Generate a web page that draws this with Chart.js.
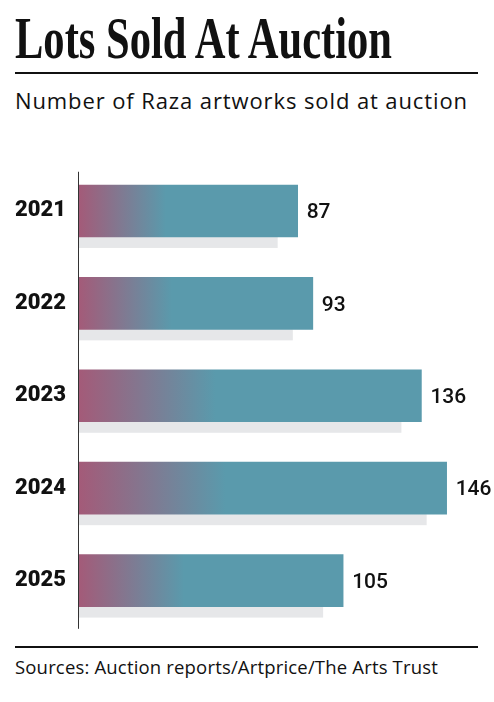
<!DOCTYPE html>
<html>
<head>
<meta charset="utf-8">
<script src="https://cdn.jsdelivr.net/npm/chart.js@4/dist/chart.umd.min.js"></script>
<style>
  body{margin:0;width:494px;height:702px;background:#fff;position:relative;overflow:hidden;color:#111}
  #title{position:absolute;left:15px;top:4px;font:bold 59px/normal "Liberation Serif",serif;white-space:nowrap;transform-origin:0 0}
  .rule{position:absolute;left:15px;width:463px;height:2px;background:#111}
  #sub{position:absolute;left:15px;top:87px;font:22px/1.2 "Open Sans",sans-serif;white-space:nowrap}
  #wrap{position:absolute;left:0;top:150px;width:494px;height:490px}
  #src{position:absolute;left:15px;top:656px;font:18.5px/1.2 "Open Sans",sans-serif;white-space:nowrap}
</style>
</head>
<body>
<div id="title">Lots Sold At Auction</div>
<div class="rule" style="top:72px"></div>
<div id="sub">Number of Raza artworks sold at auction</div>
<div id="wrap"><canvas id="chart" width="494" height="490"></canvas></div>
<div class="rule" style="top:646px"></div>
<div id="src">Sources: Auction reports/Artprice/The Arts Trust</div>

<script>
const $ = (id) => document.getElementById(id);

// data
const years = ['2021', '2022', '2023', '2024', '2025'];
const lots = [87, 93, 136, 146, 105];
const xMax = 160;

const pink = '#a45a78';
const teal = '#5a9aac';

// squeeze / stretch header text to the widths in the original
function fitScale(el, w){
  const nat = el.getBoundingClientRect().width;
  el.style.transform = 'scaleX(' + (w / nat) + ')';
}
function fitSpacing(el, w){
  const nat = el.getBoundingClientRect().width;
  el.style.letterSpacing = ((w - nat) / el.textContent.length) + 'px';
}
fitScale($('title'), 377);
fitSpacing($('sub'), 453);
fitSpacing($('src'), 423);

function barFill(c){
  const chart = c.chart;
  const x = chart.scales.x;
  if(!x || !chart.chartArea) return teal;
  const x0 = x.getPixelForValue(0);
  const x1 = x.getPixelForValue(lots[c.dataIndex]);
  const g = chart.ctx.createLinearGradient(x0, 0, x1, 0);
  g.addColorStop(0, pink);
  g.addColorStop(0.4, teal);
  g.addColorStop(1, teal);
  return g;
}

// grey shadow under each bar, value labels and the left axis line
const extras = {
  id: 'extras',
  beforeDatasetsDraw(chart){
    const ctx = chart.ctx;
    ctx.save();
    ctx.fillStyle = '#e6e7e9';
    chart.getDatasetMeta(0).data.forEach(b => {
      const bottom = b.y + b.height / 2;
      ctx.fillRect(b.base + 1, bottom, b.x - 20 - b.base - 1, 11);
    });
    ctx.restore();
  },
  afterDatasetsDraw(chart){
    const {ctx, chartArea} = chart;
    ctx.save();
    ctx.fillStyle = '#111';
    ctx.font = '500 21px Roboto';
    ctx.textBaseline = 'middle';
    chart.getDatasetMeta(0).data.forEach((b, i) => {
      ctx.fillText(String(lots[i]), b.x + 9, b.y + 2);
    });
    const x0 = Math.round(chart.scales.x.getPixelForValue(0)) + 0.5;
    ctx.strokeStyle = '#333';
    ctx.lineWidth = 1;
    ctx.beginPath();
    ctx.moveTo(x0, chartArea.top + 7);
    ctx.lineTo(x0, chartArea.bottom + 2);
    ctx.stroke();
    ctx.restore();
  }
};

new Chart($('chart'), {
  type: 'bar',
  data: {
    labels: years,
    datasets: [{ data: lots, backgroundColor: barFill, borderWidth: 0, barThickness: 52 }]
  },
  options: {
    indexAxis: 'y',
    responsive: false,
    animation: false,
    layout: { padding: { left: 15, right: 12, top: 14.75, bottom: 12.75 } },
    plugins: { legend: { display: false }, tooltip: { enabled: false } },
    scales: {
      x: { min: 0, max: xMax, display: false },
      y: {
        grid: { display: false, drawTicks: false },
        border: { display: false },
        ticks: { crossAlign: 'far', padding: 0, color: '#111', font: { family: 'Roboto', weight: '900', size: 22 } },
        afterFit(s){ s.width = 63; }
      }
    }
  },
  plugins: [extras]
});
</script>
</body>
</html>
